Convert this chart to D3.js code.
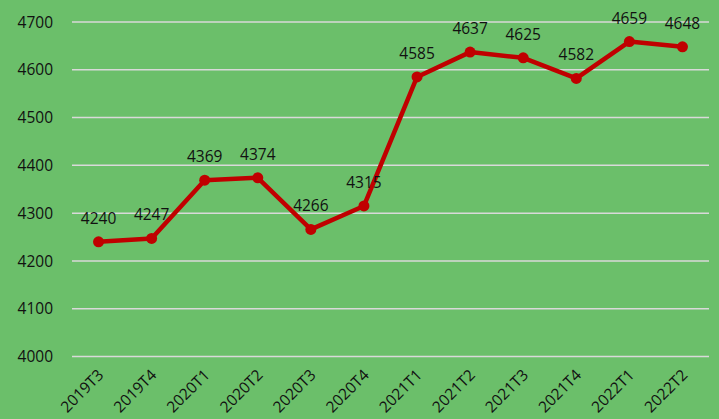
<!DOCTYPE html>
<html>
<head>
<meta charset="utf-8">
<script src="https://cdn.jsdelivr.net/npm/d3@7"></script>
<style>
  body { margin: 0; background: #6bbf6a; }
  text { font-family: "Open Sans", sans-serif; fill: #111; }
</style>
</head>
<body>
<div id="chart"></div>
<script>
// quarters and values
var quarters = ["2019T3", "2019T4", "2020T1", "2020T2", "2020T3", "2020T4",
  "2021T1", "2021T2", "2021T3", "2021T4", "2022T1", "2022T2"];
var values = [4240, 4247, 4369, 4374, 4266, 4315, 4585, 4637, 4625, 4582, 4659, 4648];
var yTicks = [4000, 4100, 4200, 4300, 4400, 4500, 4600, 4700];

var w = 719, h = 419;

var svg = d3.select("#chart")
  .append("svg")
  .attr("width", w)
  .attr("height", h);

svg.append("rect")
  .attr("width", w)
  .attr("height", h)
  .attr("fill", "#6bbf6a");

var x = d3.scaleBand()
  .domain(quarters)
  .range([72, 709]);

var y = d3.scaleLinear()
  .domain([4000, 4700])
  .range([356.5, 22]);

// gridlines
svg.append("g")
  .selectAll("line")
  .data(yTicks)
  .enter()
  .append("line")
  .attr("x1", 72)
  .attr("x2", 709)
  .attr("y1", function(d) { return y(d); })
  .attr("y2", function(d) { return y(d); })
  .attr("stroke", "#d9d9d9")
  .attr("stroke-width", 1.5);

// y labels
svg.append("g")
  .selectAll("text")
  .data(yTicks)
  .enter()
  .append("text")
  .attr("x", 53)
  .attr("y", function(d) { return y(d); })
  .attr("dy", "0.36em")
  .attr("text-anchor", "end")
  .attr("font-size", "15.5px")
  .text(function(d) { return d; });

// x labels, rotated
svg.append("g")
  .selectAll("text")
  .data(quarters)
  .enter()
  .append("text")
  .attr("transform", function(d) {
    return "translate(" + (x(d) + x.bandwidth() / 2 + 6) + ",376) rotate(-45)";
  })
  .attr("text-anchor", "end")
  .attr("font-size", "15.5px")
  .text(function(d) { return d; });

var cx = function(d, i) { return x(quarters[i]) + x.bandwidth() / 2; };

var line = d3.line()
  .x(cx)
  .y(function(d) { return y(d); });

svg.append("path")
  .datum(values)
  .attr("d", line)
  .attr("fill", "none")
  .attr("stroke", "#c00000")
  .attr("stroke-width", 4.5)
  .attr("stroke-linejoin", "round");

svg.append("g")
  .selectAll("circle")
  .data(values)
  .enter()
  .append("circle")
  .attr("cx", cx)
  .attr("cy", function(d) { return y(d); })
  .attr("r", 5.5)
  .attr("fill", "#c00000");

// data labels
svg.append("g")
  .selectAll("text")
  .data(values)
  .enter()
  .append("text")
  .attr("x", cx)
  .attr("y", function(d) { return y(d) - 18; })
  .attr("text-anchor", "middle")
  .attr("font-size", "15.5px")
  .text(function(d) { return d; });
</script>
</body>
</html>
